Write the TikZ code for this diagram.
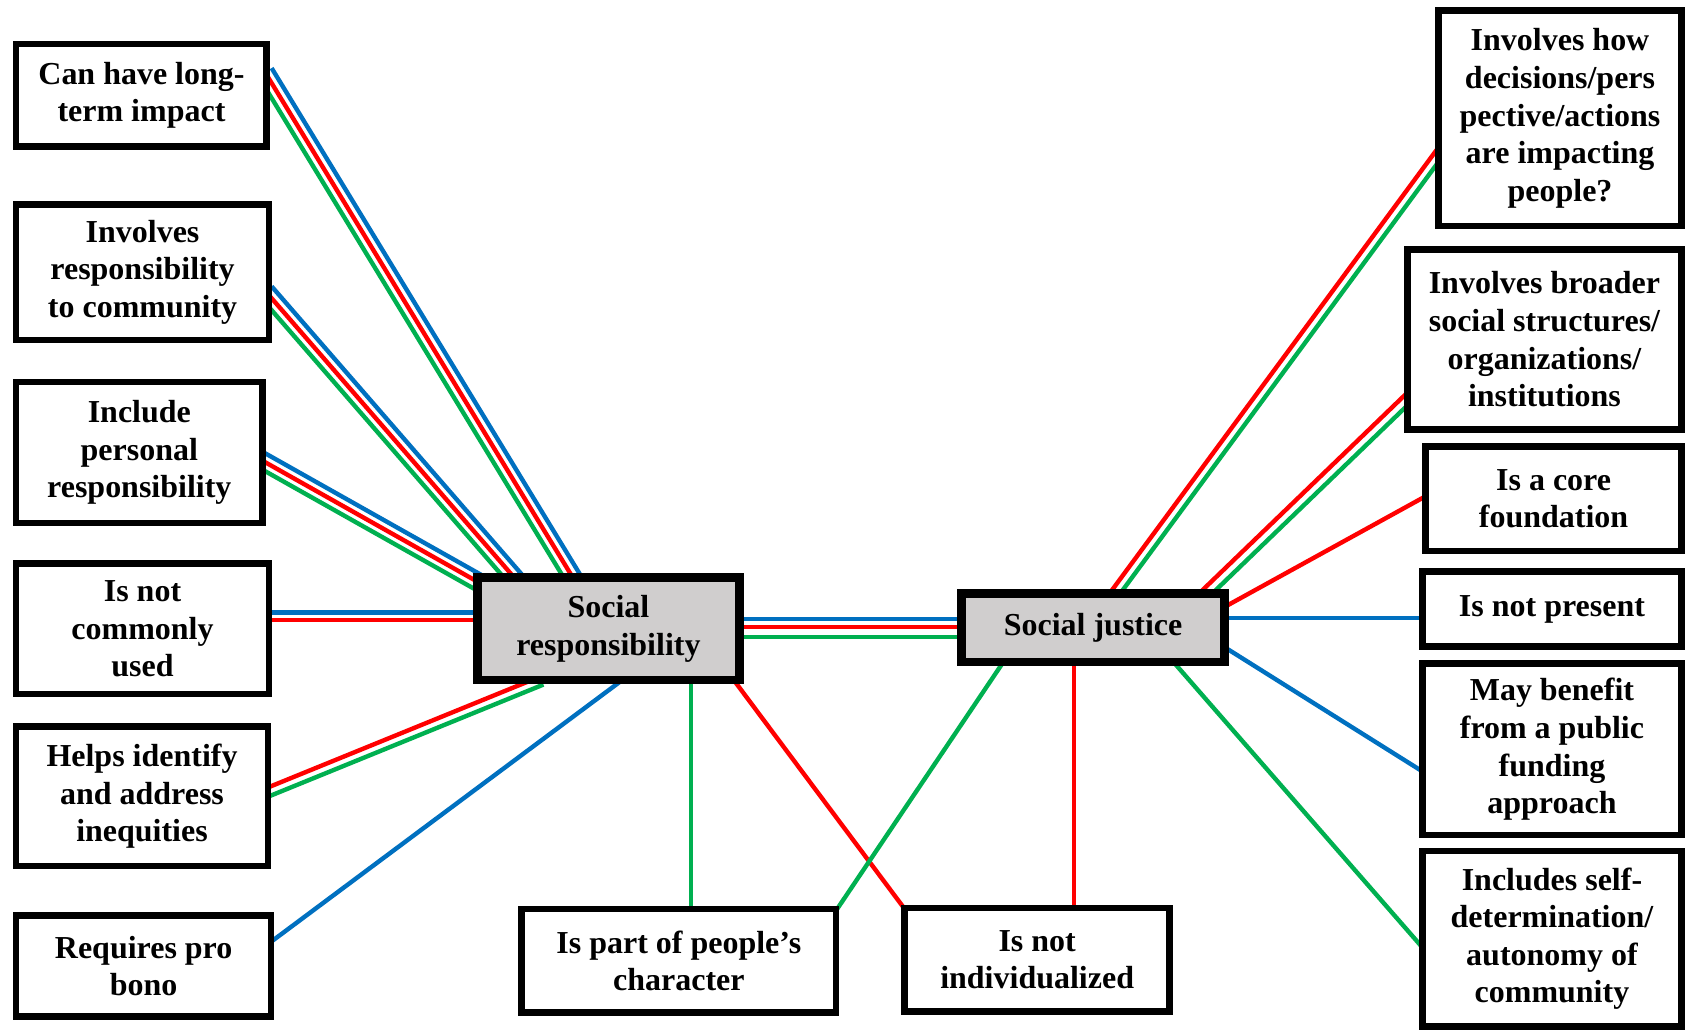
\documentclass[tikz,border=0pt]{standalone}
\usepackage{fontspec}
\setmainfont{Liberation Serif}
\usepackage{tikz}
\usetikzlibrary{calc}
\usetikzlibrary{backgrounds}

\definecolor{linkblue}{HTML}{0070C0}
\definecolor{linkred}{HTML}{FF0000}
\definecolor{linkgreen}{HTML}{00B050}
\definecolor{hubgray}{HTML}{D0CECE}

% one coloured strand, shifted sideways (side 90 or 270) from the line from #4 to #5
\newcommand{\wire}[5]{\draw[link, #1] ($(#4)!#2!#3:(#5)$) -- ($(#5)!#2!-#3:(#4)$);}

\begin{document}
\begin{tikzpicture}[
    x=0.10759mm, y=-0.10759mm,
    % Recuadros de texto
    box/.style={
        draw=black,
        line width=1.9pt,
        fill=white,
        align=center,
        inner sep=0pt,
        font=\bfseries\fontsize{9.1}{10.7}\selectfont
    },
    % Los dos conceptos centrales (gris)
    hub/.style={
        box,
        fill=hubgray,
        line width=2.4pt
    },
    % Lineas de union
    link/.style={
        line width=1.25pt,
        shorten <=-1mm,
        shorten >=-1mm
    }
]
    \useasboundingbox (0,0) rectangle (1568,959);

    % --- 1. CONCEPTOS CENTRALES ---
    \node[hub, minimum width=26.18mm, minimum height=10.26mm] (sr) at (565.5,584.5) {Social\\responsibility};
    \node[hub, minimum width=26.29mm, minimum height=6.82mm] (sj) at (1016,583.5) {Social justice};

    % --- 2. COLUMNA IZQUIERDA ---
    \node[box, minimum width=25.07mm, minimum height=10.23mm] (b1) at (131.5,88.5) {Can have long-\\term impact};
    \node[box, minimum width=25.29mm, minimum height=13.56mm] (b2) at (132.5,253) {Involves\\responsibility\\to community};
    \node[box, minimum width=24.64mm, minimum height=14.10mm] (b3) at (129.5,420.5) {Include\\personal\\responsibility};
    \node[box, minimum width=25.29mm, minimum height=13.02mm] (b4) at (132.5,584.5) {Is not\\commonly\\used};
    \node[box, minimum width=25.18mm, minimum height=13.99mm] (b5) at (132,740) {Helps identify\\and address\\inequities};
    \node[box, minimum width=25.50mm, minimum height=10.12mm] (b6) at (133.5,898) {Requires pro\\bono};

    % --- 3. ABAJO ---
    \node[box, minimum width=31.42mm, minimum height=10.33mm] (b7) at (631,893) {Is part of people’s\\character};
    \node[box, minimum width=26.47mm, minimum height=10.33mm] (b8) at (964,892) {Is not\\individualized};

    % --- 4. COLUMNA DERECHA ---
    \node[box, minimum width=24.32mm, minimum height=21.52mm] (r1) at (1450,110) {Involves how\\decisions/pers\\pective/actions\\are impacting\\people?};
    \node[box, minimum width=27.44mm, minimum height=17.97mm] (r2) at (1435.5,315.5) {Involves broader\\social structures/\\organizations/\\institutions};
    \node[box, minimum width=25.61mm, minimum height=10.44mm] (r3) at (1444,463.5) {Is a core\\foundation};
    \node[box, minimum width=25.93mm, minimum height=7.53mm] (r4) at (1442.5,566) {Is not present};
    \node[box, minimum width=25.93mm, minimum height=17.11mm] (r5) at (1442.5,696.5) {May benefit\\from a public\\funding\\approach};
    \node[box, minimum width=25.93mm, minimum height=17.54mm] (r6) at (1442.5,872.5) {Includes self-\\determination/\\autonomy of\\community};

    % --- 5. LINEAS (detras de los recuadros) ---
    \begin{pgfonlayer}{background}
        % extremos
        \coordinate (c1-a) at ($(b1.east)+(0,-13.5)$);
        \coordinate (c1-b) at ($(sr.north)+(-35.5,0)$);
        \coordinate (c2-a) at ($(b2.east)+(0,25)$);
        \coordinate (c2-b) at ($(sr.north)+(-91,0)$);
        \coordinate (c3-a) at ($(b3.east)+(0,9.5)$);
        \coordinate (c3-b) at ($(sr.west)+(0,-46)$);
        \coordinate (c4-a) at ($(b4.east)+(0,-11.75)$);
        \coordinate (c4-b) at ($(sr.west)+(0,-11.75)$);
        \coordinate (c5-a) at ($(b5.east)+(0,-5)$);
        \coordinate (c5-b) at ($(sr.south)+(-70.5,0)$);
        \coordinate (c9-a) at ($(sr.east)+(0,-1.5)$);
        \coordinate (c9-b) at ($(sj.west)+(0,-0.5)$);
        \coordinate (c10-a) at ($(sj.north)+(23,0)$);
        \coordinate (c10-b) at ($(r1.west)+(0,38)$);
        \coordinate (c11-a) at ($(sj.north)+(108.5,0)$);
        \coordinate (c11-b) at ($(r2.west)+(0,58.5)$);

        % azul, rojo y verde en paralelo
        \foreach \k in {1,2,3} {
            \wire{linkblue}{0.78mm}{90}{c\k-a}{c\k-b}
            \wire{linkred}{0mm}{90}{c\k-a}{c\k-b}
            \wire{linkgreen}{0.78mm}{270}{c\k-a}{c\k-b}
        }
        \wire{linkblue}{0.81mm}{90}{c9-a}{c9-b}
        \wire{linkred}{0mm}{90}{c9-a}{c9-b}
        \wire{linkgreen}{0.97mm}{270}{c9-a}{c9-b}

        % solo dos colores
        \wire{linkblue}{0.37mm}{90}{c4-a}{c4-b}
        \wire{linkred}{0.37mm}{270}{c4-a}{c4-b}
        \wire{linkred}{0.43mm}{90}{c5-a}{c5-b}
        \wire{linkgreen}{0.43mm}{270}{c5-a}{c5-b}
        \wire{linkred}{0.43mm}{90}{c10-a}{c10-b}
        \wire{linkgreen}{0.43mm}{270}{c10-a}{c10-b}
        \wire{linkred}{0.46mm}{90}{c11-a}{c11-b}
        \wire{linkgreen}{0.46mm}{270}{c11-a}{c11-b}

        % un solo color
        \draw[link, linkblue] ($(b6.east)+(0,-25)$) -- ($(sr.south)+(7.5,0)$);
        \draw[link, linkgreen] ($(sr.south)+(76.5,0)$) -- ($(b7.north)+(11,0)$);
        \draw[link, linkred] ($(sr.south)+(119.5,0)$) -- (b8.north west);
        \draw[link, linkred] ($(sj.east)+(0,-21.5)$) -- ($(r3.west)+(0,-0.5)$);
        \draw[link, linkblue] ($(sj.east)+(0,-9)$) -- ($(r4.west)+(0,8.5)$);
        \draw[link, linkblue] ($(sj.east)+(0,20.5)$) -- ($(r5.west)+(0,18.5)$);
        \draw[link, linkgreen] ($(sj.south)+(78,0)$) -- ($(r6.west)+(0,4.5)$);
        \draw[link, linkred] ($(sj.south)+(-18,0)$) -- ($(b8.north)+(34,0)$);
        \draw[link, linkgreen] ($(sj.south)+(-86,0)$) -- (b7.north east);
    \end{pgfonlayer}

\end{tikzpicture}
\end{document}
